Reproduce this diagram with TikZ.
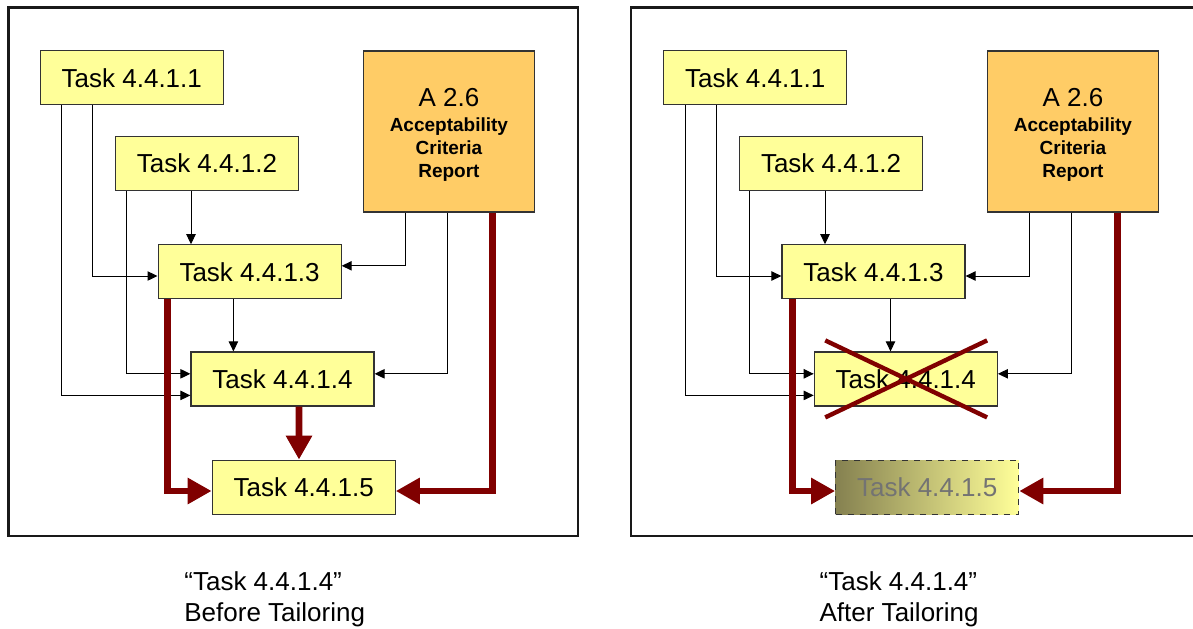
\documentclass[tikz,border=0pt]{standalone}
\usepackage{fontspec}
\setmainfont{Liberation Sans}
\usepackage{tikz}
\usetikzlibrary{arrows.meta,positioning}
\definecolor{taskyellow}{HTML}{FFFF99}
\definecolor{reportorange}{HTML}{FFCC66}
\definecolor{flowred}{HTML}{800000}
\definecolor{fadeolive}{HTML}{858150}
\tikzset{
  task/.style    = {draw=black!80, line width=0.6pt, fill=taskyellow, minimum width=91.5pt, minimum height=27pt, inner sep=0pt, font=\fontsize{13}{15}\selectfont},
  report/.style  = {draw=black!80, line width=0.6pt, fill=reportorange, minimum width=85.5pt, minimum height=80.5pt, inner sep=0pt, align=center, font=\fontsize{9.5}{11.5}\selectfont\bfseries},
  faded/.style   = {dashed, left color=fadeolive, right color=taskyellow, text=black!55},
  frame/.style   = {draw=black!90, line width=1.4pt},
  feed/.style    = {-{Triangle[length=5pt,width=4.7pt]}, line width=0.5pt},
  flow/.style    = {-{Triangle[length=12pt,width=12.5pt]}, line width=3.3pt, draw=flowred},
  cross/.style   = {line width=2.2pt, draw=flowred},
  caption/.style = {anchor=north west, align=left, inner sep=0pt, font=\fontsize{13}{15.8}\selectfont},
}

\begin{document}
\begin{tikzpicture}[x=0.5pt,y=-0.5pt]
    \useasboundingbox (0,0) rectangle (1193,628);
    \clip (0,0) rectangle (1193,628);

    % before tailoring
    \draw[frame] (8.4,7.3) rectangle (578,536);
    \node[task] (pre1) at (131.8,77.7) {Task 4.4.1.1};
    \node[task] (pre2) at (206.9,163.5) {Task 4.4.1.2};
    \node[task] (pre3) at (249.6,271.8) {Task 4.4.1.3};
    \node[task] (pre4) at (282.5,379) {Task 4.4.1.4};
    \node[task] (pre5) at (303.7,487.2) {Task 4.4.1.5};
    \node[report] (prerep) at (448.9,131.5) {{\fontsize{13}{13}\selectfont\mdseries\rule{0pt}{12.5pt}A 2.6}\\[1.2pt] Acceptability\\ Criteria\\ Report};

    \draw[feed] ([xshift=10.7pt]pre1.south west) |- ([yshift=-8.2pt]pre4.west);
    \draw[feed] ([xshift=26.5pt]pre1.south west) |- ([yshift=-2.1pt]pre3.west);
    \draw[feed] ([xshift=5.9pt]pre2.south west) |- ([yshift=2.6pt]pre4.west);
    \draw[feed] ([xshift=-7.95pt]pre2.south) -- ([xshift=-29.3pt]pre3.north);
    \draw[feed] ([xshift=-8.1pt]pre3.south) -- ([xshift=-24.55pt]pre4.north);
    \draw[feed] ([xshift=21.4pt]prerep.south west) |- ([yshift=3pt]pre3.east);
    \draw[feed] ([xshift=42.3pt]prerep.south west) |- ([yshift=2.6pt]pre4.east);
    \draw[flow] ([xshift=5pt]pre3.south west) |- ([yshift=-1.9pt]pre5.west);
    \draw[flow] ([xshift=8.25pt]pre4.south) -- ([xshift=-2.35pt]pre5.north);
    \draw[flow] ([xshift=-21.4pt]prerep.south east) |- ([yshift=-1.9pt]pre5.east);

    \node[caption] (precap) at (184,571) {``Task 4.4.1.4''\\ Before Tailoring};

    % after tailoring
    \draw[frame] (631,7.3) rectangle (1201,536);
    \node[task] (post1) at (755.3,77.7) {Task 4.4.1.1};
    \node[task] (post2) at (831.1,163.5) {Task 4.4.1.2};
    \node[task] (post3) at (873.5,271.8) {Task 4.4.1.3};
    \node[task] (post4) at (905.8,379) {Task 4.4.1.4};
    \node[task,faded] (post5) at (927.2,487.2) {Task 4.4.1.5};
    \node[report] (postrep) at (1072.9,131.5) {{\fontsize{13}{13}\selectfont\mdseries\rule{0pt}{12.5pt}A 2.6}\\[1.2pt] Acceptability\\ Criteria\\ Report};

    \draw[feed] ([xshift=11pt]post1.south west) |- ([yshift=-8.2pt]post4.west);
    \draw[feed] ([xshift=26.5pt]post1.south west) |- ([yshift=-2.1pt]post3.west);
    \draw[feed] ([xshift=5.45pt]post2.south west) |- ([yshift=2.6pt]post4.west);
    \draw[feed] ([xshift=-3.05pt]post2.south) -- ([xshift=-24.25pt]post3.north);
    \draw[feed] ([xshift=8.5pt]post3.south) -- ([xshift=-7.65pt]post4.north);
    \draw[feed] ([xshift=21.15pt]postrep.south west) |- ([yshift=-2.1pt]post3.east);
    \draw[feed] ([xshift=42.3pt]postrep.south west) |- ([yshift=2.6pt]post4.east);
    \draw[flow] ([xshift=5.45pt]post3.south west) |- ([yshift=-1.9pt]post5.west);
    \draw[flow] ([xshift=-20.7pt]postrep.south east) |- ([yshift=-1.9pt]post5.east);

    % struck out
    \draw[cross] ([xshift=5.75pt,yshift=5.5pt]post4.north west) -- ([xshift=-5.4pt,yshift=-5.4pt]post4.south east);
    \draw[cross] ([xshift=5.75pt,yshift=-5.4pt]post4.south west) -- ([xshift=-5.4pt,yshift=5.5pt]post4.north east);

    \node[caption] (postcap) at (819.2,571) {``Task 4.4.1.4''\\ After Tailoring};
  \end{tikzpicture}
\end{document}
